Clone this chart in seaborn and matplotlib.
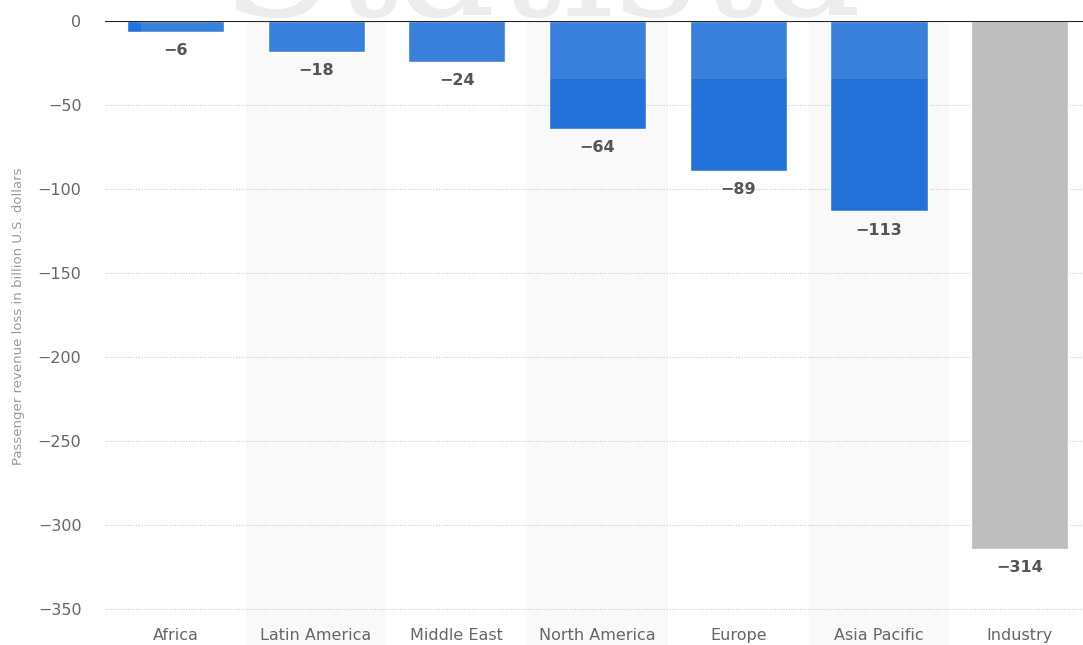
import matplotlib
matplotlib.use("Agg")
import matplotlib.pyplot as plt
import seaborn as sns
import pandas as pd

categories = ["Africa", "Latin America", "Middle East", "North America", "Europe", "Asia Pacific", "Industry"]
values = [-6, -18, -24, -64, -89, -113, -314]
bar_colors = ["#2272d9"] * 6 + ["#bdbdbd"]
y_ticks = [0, -50, -100, -150, -200, -250, -300, -350]
y_label = "Passenger revenue loss in billion U.S. dollars"

sns.set_theme(style="white")
plt.rcParams["font.family"] = ["DejaVu Sans"]

df = pd.DataFrame({"region": categories, "loss": values})

fig = plt.figure(figsize=(10.83, 6.45), dpi=100)
ax = fig.add_axes([0.097, 0.0528, 0.903, 0.9139])

# alternating light bands (extend under the category labels)
for i in range(len(categories)):
    if i % 2 == 1:
        ax.axvspan(i - 0.5, i + 0.5, ymin=-0.07, ymax=1, color="#f9f9f9",
                   zorder=0, lw=0, clip_on=False)

sns.barplot(data=df, x="region", y="loss", hue="region", palette=bar_colors,
            width=0.69, saturation=1, legend=False, ax=ax, zorder=2)

# watermark-like lighter band
ax.axhspan(-34.2, 0, xmin=0.037, xmax=0.86, color="white", alpha=0.1, zorder=3, lw=0)

for i, v in enumerate(values):
    ax.annotate(f"\u2212{abs(v)}", xy=(i, v), xytext=(0, -19), textcoords="offset pixels",
                ha="center", va="center", fontsize=11.5, fontweight="bold", color="#555555", zorder=5)

ax.set_xlim(-0.5, 6.45)
ax.set_ylim(-351, 0)
ax.set_yticks(y_ticks)
ax.set_yticklabels([("\u2212" + str(abs(t))) if t < 0 else str(t) for t in y_ticks])
ax.yaxis.grid(True, linestyle=(0, (1, 1.5)), color="#c8c8c8", lw=0.8, zorder=1)
ax.set_axisbelow(True)
ax.axhline(0, color="#222222", lw=1.5, zorder=6)

for s in ax.spines.values():
    s.set_visible(False)
ax.tick_params(axis="both", length=0, colors="#666666", labelsize=11.5)
ax.tick_params(axis="y", pad=17)
ax.tick_params(axis="x", pad=12)
ax.set_xlabel("")
ax.set_ylabel(y_label, color="#999999", fontsize=9.5, labelpad=12)
ax.yaxis.set_label_coords(-0.082, 0.5)

# faint watermark text above the plot area
fig.text(0.5, 1 - 16 / 645, "Statista", ha="center", va="baseline", fontsize=118,
         family="DejaVu Serif", color="#ececec", zorder=0)

fig.savefig("out.png", dpi=100)
